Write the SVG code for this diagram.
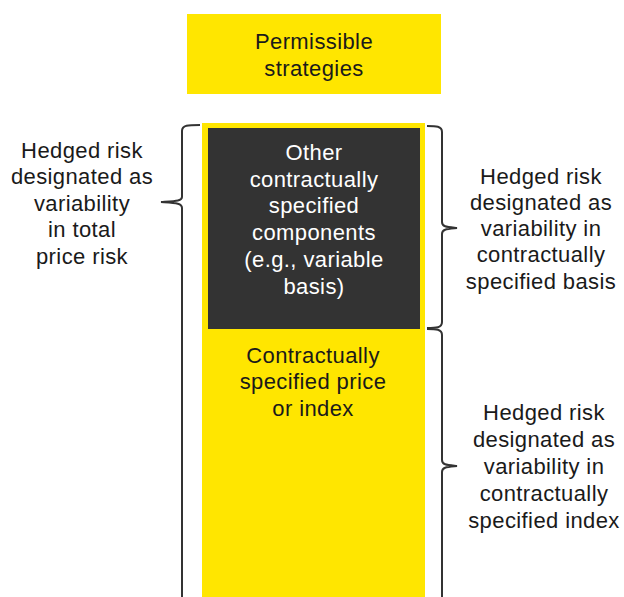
<svg xmlns="http://www.w3.org/2000/svg" width="624" height="597" viewBox="0 0 624 597">
<style>
.t{font-family:"Liberation Sans",Arial,sans-serif;font-size:22px;letter-spacing:0.4px;text-anchor:middle;fill:#1a1a1a}
.w{fill:#ffffff}
.br{fill:none;stroke:#333333;stroke-width:2}
</style>
<rect width="624" height="597" fill="#ffffff"/>
<g id="permissible">
<rect x="187" y="14" width="254" height="80" fill="#FFE600"/>
<text class="t"><tspan x="314" y="49">Permissible</tspan><tspan x="314" y="76">strategies</tspan></text>
</g>
<g id="price-index">
<rect x="202" y="123" width="223" height="480" fill="#FFE600"/>
<text class="t"><tspan x="313" y="363">Contractually</tspan><tspan x="313" y="389">specified price</tspan><tspan x="313" y="416">or index</tspan></text>
</g>
<g id="other-components">
<rect x="208" y="128" width="212" height="201" fill="#333333"/>
<text class="t w"><tspan x="314" y="160">Other</tspan><tspan x="314" y="187">contractually</tspan><tspan x="314" y="213">specified</tspan><tspan x="314" y="240">components</tspan><tspan x="314" y="267">(e.g., variable</tspan><tspan x="314" y="294">basis)</tspan></text>
</g>
<g id="total-price-risk">
<text class="t"><tspan x="82" y="158">Hedged risk</tspan><tspan x="82" y="184">designated as</tspan><tspan x="82" y="211">variability</tspan><tspan x="82" y="237">in total</tspan><tspan x="82" y="264">price risk</tspan></text>
</g>
<g id="specified-basis">
<text class="t"><tspan x="541" y="184">Hedged risk</tspan><tspan x="541" y="210">designated as</tspan><tspan x="541" y="236">variability in</tspan><tspan x="541" y="262">contractually</tspan><tspan x="541" y="289">specified basis</tspan></text>
</g>
<g id="specified-index">
<text class="t"><tspan x="544" y="420">Hedged risk</tspan><tspan x="544" y="447">designated as</tspan><tspan x="544" y="474">variability in</tspan><tspan x="544" y="501">contractually</tspan><tspan x="544" y="528">specified index</tspan></text>
</g>
<g id="connectors">
<path class="br" d="M200,125 C188,125 182,125 182,131 L182,197 C182,201 176,201 161,202 C176,203 182,203 182,208 L182,600"/>
<path class="br" d="M427,126 C436,126 442,126 442,132 L442,222 C442,227 447,227 457,228 C447,229 442,229 442,234 L442,322 C442,328 436,328 427,328"/>
<path class="br" d="M427,329 C436,329 442,329 442,335 L442,460 C442,465 447,465 457,466 C447,467 442,467 442,472 L442,600"/>
</g>
</svg>
